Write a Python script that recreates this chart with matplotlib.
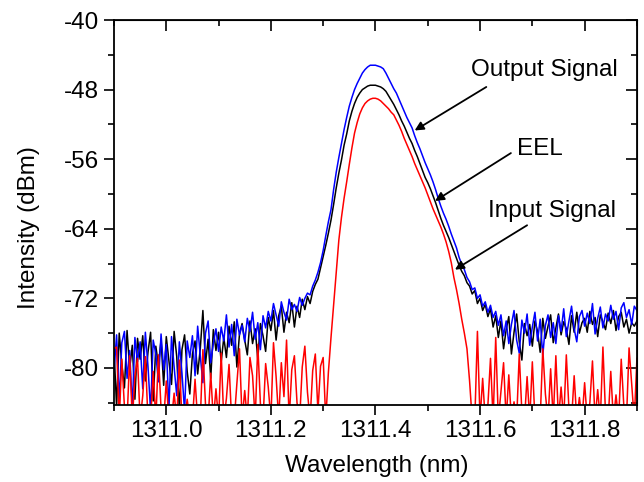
import numpy as np
import matplotlib
matplotlib.use('Agg')
import matplotlib.pyplot as plt

plt.rcParams['font.family'] = ['Liberation Sans', 'DejaVu Sans']
plt.rcParams['axes.unicode_minus'] = False

# wavelength samples (nm), 0.005 nm apart
wavelength = np.linspace(1310.9, 1311.9, 201)

# Output Signal (dBm)
output_signal = [
    -80.5, -76.2, -83.9, -77.1, -75.8, -81.2, -78.0, -84.6, -76.5, -79.3,
    -77.0, -82.4, -75.9, -79.8, -85.0, -76.8, -78.4, -81.6, -76.1, -80.2,
    -77.3, -84.8, -76.4, -79.9, -83.2, -77.0, -80.6, -85.0, -76.9, -78.8,
    -76.3, -80.9, -75.2, -78.6, -81.7, -76.0, -74.6, -79.4, -77.2, -75.5,
    -78.1, -75.3, -76.9, -73.9, -77.6, -75.0, -78.6, -74.4, -76.2, -75.1,
    -77.0, -74.3, -75.8, -73.6, -76.7, -74.8, -77.9, -74.0, -75.4, -73.5,
    -74.6, -72.6, -73.9, -75.2, -72.4, -73.6, -74.5, -72.1, -73.3, -72.7,
    -73.5, -71.9, -72.8, -72.0, -71.4, -71.6, -70.6, -69.9, -69.0, -67.9,
    -66.5, -64.8, -63.2, -61.8, -59.5, -57.5, -55.8, -54.2, -52.6, -51.2,
    -49.9, -48.9, -48.0, -47.3, -46.7, -46.1, -45.7, -45.4, -45.2, -45.2,
    -45.2, -45.3, -45.4, -45.6, -46.1, -46.7, -47.3, -47.9, -48.4, -49.1,
    -49.8, -50.5, -51.2, -51.8, -52.4, -53.3, -54.1, -54.8, -55.6, -56.4,
    -57.1, -57.8, -58.6, -59.5, -60.5, -61.4, -62.2, -62.9, -63.7, -64.6,
    -65.4, -66.2, -67.3, -68.1, -68.7, -69.6, -70.1, -71.0, -70.8, -72.0,
    -71.6, -72.9, -72.4, -73.6, -72.8, -74.2, -73.5, -75.1, -73.9, -76.3,
    -74.6, -77.2, -75.0, -73.4, -76.8, -78.3, -74.5, -76.0, -73.8, -77.4,
    -75.3, -73.6, -76.9, -74.4, -78.6, -75.1, -73.9, -76.5, -74.8, -77.2,
    -74.0, -75.8, -73.2, -76.4, -74.6, -72.9, -75.5, -77.0, -74.1, -73.4,
    -75.2, -73.7, -74.9, -72.6, -76.1, -74.3, -73.0, -75.4, -73.8, -74.6,
    -72.8, -74.4, -73.5, -75.6, -73.1, -72.5, -74.2, -73.3, -75.0, -72.9,
    -73.4,
]

# EEL (dBm)
eel = [
    -77.8, -84.5, -76.0, -79.6, -82.3, -75.7, -80.1, -77.4, -83.6, -76.6,
    -79.0, -76.3, -81.5, -78.2, -75.9, -83.8, -77.5, -79.7, -76.8, -82.0,
    -76.4, -79.2, -81.9, -75.8, -78.7, -84.9, -77.9, -76.2, -80.4, -83.0,
    -78.4, -76.9, -80.7, -77.8, -73.4, -79.5, -76.7, -81.2, -75.6, -78.0,
    -75.9, -79.3, -76.5, -78.8, -75.2, -77.4, -74.7, -79.9, -76.1, -74.9,
    -76.8, -78.5, -74.6, -77.2, -75.5, -79.0, -74.9, -76.3, -78.1, -74.2,
    -75.7, -73.4, -76.8, -74.0, -72.9, -75.9, -73.6, -74.8, -72.5, -75.3,
    -72.9, -74.2, -72.1, -73.3, -71.8, -72.6, -71.2, -70.4, -69.8, -68.5,
    -67.2, -65.9, -64.5, -63.0, -61.2, -59.3, -57.6, -56.1, -54.4, -53.1,
    -51.6, -50.5, -49.6, -48.9, -48.4, -48.0, -47.8, -47.6, -47.5, -47.5,
    -47.5, -47.6, -47.7, -47.9, -48.2, -48.7, -49.2, -49.7, -50.3, -50.9,
    -51.6, -52.2, -52.9, -53.6, -54.2, -55.0, -55.7, -56.5, -57.3, -58.1,
    -58.7, -59.4, -60.2, -61.0, -61.9, -62.8, -63.6, -64.3, -65.0, -65.8,
    -66.6, -67.4, -68.2, -68.9, -69.4, -70.2, -70.6, -71.5, -71.1, -72.6,
    -72.0, -73.4, -72.7, -74.1, -73.2, -75.3, -74.0, -76.5, -74.6, -77.8,
    -75.6, -74.1, -78.4, -75.9, -73.8, -77.0, -79.1, -74.9, -76.3, -75.0,
    -77.5, -74.6, -75.8, -78.2, -74.3, -76.6, -75.2, -73.9, -77.1, -75.4,
    -73.8, -76.2, -74.7, -75.5, -77.3, -74.0, -75.9, -73.6, -76.0, -74.8,
    -74.3, -75.9, -73.5, -75.0, -74.2, -76.4, -73.9, -74.7, -75.6, -73.7,
    -74.9, -73.4, -75.7, -74.1, -73.6, -75.3, -74.4, -76.0, -74.8, -75.2,
    -74.6,
]

# Input Signal (dBm), values under the axis floor are clipped
input_signal = [
    -77.8, -77.6, -86.0, -79.0, -84.5, -86.0, -78.6, -86.0, -81.0, -78.9,
    -86.0, -83.2, -78.7, -86.0, -86.0, -80.4, -86.0, -78.5, -84.7, -86.0,
    -81.5, -86.0, -86.0, -82.9, -86.0, -79.1, -86.0, -86.0, -83.6, -86.0,
    -86.0, -81.3, -86.0, -86.0, -77.9, -84.2, -86.0, -80.6, -86.0, -82.4,
    -86.0, -78.3, -86.0, -83.5, -79.6, -86.0, -86.0, -81.8, -77.8, -86.0,
    -82.6, -86.0, -78.8, -80.9, -86.0, -77.3, -84.1, -86.0, -79.5, -82.2,
    -86.0, -77.1, -81.0, -86.0, -79.4, -83.3, -76.8, -86.0, -80.2, -78.6,
    -84.0, -86.0, -79.9, -77.5, -82.8, -86.0, -80.3, -78.4, -85.0, -79.8,
    -78.8, -86.0, -80.5, -76.5, -72.8, -69.0, -65.3, -62.7, -60.5, -58.6,
    -56.6, -54.7, -53.0, -51.8, -50.8, -50.1, -49.6, -49.3, -49.1, -49.0,
    -49.0, -49.1, -49.3, -49.6, -49.9, -50.2, -50.6, -50.9, -51.5, -52.1,
    -52.8, -53.6, -54.3, -55.0, -55.7, -56.5, -57.2, -57.9, -58.6, -59.3,
    -60.1, -60.9, -61.7, -62.4, -63.1, -63.8, -64.6, -65.5, -66.6, -67.9,
    -69.6, -71.0, -72.6, -74.4, -76.0, -77.8, -81.5, -86.0, -86.0, -75.8,
    -86.0, -81.2, -86.0, -84.3, -78.9, -86.0, -76.5, -86.0, -82.7, -79.4,
    -86.0, -80.8, -86.0, -83.9, -86.0, -78.4, -85.1, -86.0, -81.0, -86.0,
    -79.3, -86.0, -84.6, -86.0, -77.8, -83.0, -86.0, -80.1, -86.0, -78.6,
    -86.0, -82.2, -86.0, -78.5, -84.7, -86.0, -80.9, -86.0, -83.4, -86.0,
    -81.7, -86.0, -84.0, -79.2, -86.0, -82.5, -86.0, -77.6, -85.3, -86.0,
    -80.4, -86.0, -83.1, -86.0, -79.0, -84.4, -86.0, -77.7, -81.9, -86.0,
    -78.9,
]

# labels: (text, text position, arrow start, arrow tip)
labels = ['Output Signal', 'EEL', 'Input Signal']
label_xy = [(1311.582, -46.4), (1311.671, -55.5), (1311.616, -62.6)]
arrow_from = [(1311.612, -47.7), (1311.659, -55.3), (1311.690, -63.6)]
arrow_to = [(1311.475, -52.7), (1311.514, -60.8), (1311.552, -68.7)]

FS = 17.5

fig = plt.figure(figsize=(6.44, 4.82), dpi=100)
ax = fig.add_axes([0.177, 0.160, 0.812, 0.7985])

ax.plot(wavelength, eel, color='black', lw=1.1)
ax.plot(wavelength, output_signal, color='blue', lw=1.1)
ax.plot(wavelength, input_signal, color='red', lw=1.1)

ax.set_xlim(1310.9, 1311.9)
ax.set_ylim(-84.25, -40)
ax.set_xticks([1311.0, 1311.2, 1311.4, 1311.6, 1311.8])
ax.set_xticklabels(['1311.0', '1311.2', '1311.4', '1311.6', '1311.8'])
ax.set_xticks(np.arange(1310.9, 1311.95, 0.2), minor=True)
ax.set_yticks([-40, -48, -56, -64, -72, -80])
ax.set_yticks([-44, -52, -60, -68, -76, -84], minor=True)
ax.tick_params(which='both', direction='out', width=1.2, labelsize=FS)
ax.tick_params(which='major', length=7, pad=4)
ax.tick_params(which='minor', length=4)
for s in ax.spines.values():
    s.set_linewidth(1.3)

# inward ticks on top and right
top = ax.secondary_xaxis('top')
top.set_xticks([1311.0, 1311.2, 1311.4, 1311.6, 1311.8])
top.set_xticks(np.arange(1310.9, 1311.95, 0.2), minor=True)
top.tick_params(which='both', direction='in', width=1.2, labeltop=False)
top.tick_params(which='major', length=8)
top.tick_params(which='minor', length=4)
right = ax.secondary_yaxis('right')
right.set_yticks([-40, -48, -56, -64, -72, -80])
right.set_yticks([-44, -52, -60, -68, -76, -84], minor=True)
right.tick_params(which='both', direction='in', width=1.2, labelright=False)
right.tick_params(which='major', length=8)
right.tick_params(which='minor', length=4)

ax.set_xlabel('Wavelength (nm)', fontsize=FS)
ax.set_ylabel('Intensity (dBm)', fontsize=FS)
ax.xaxis.set_label_coords(0.503, -0.13)
ax.yaxis.set_label_coords(-0.142, 0.462)

for txt, xy, a0, a1 in zip(labels, label_xy, arrow_from, arrow_to):
    ax.text(xy[0], xy[1], txt, fontsize=FS, ha='left', va='baseline')
    ax.annotate('', xy=a1, xytext=a0,
                arrowprops=dict(arrowstyle='-|>', color='black', lw=1.3,
                                mutation_scale=13, shrinkA=0, shrinkB=0))

fig.savefig('out.png', dpi=100)
